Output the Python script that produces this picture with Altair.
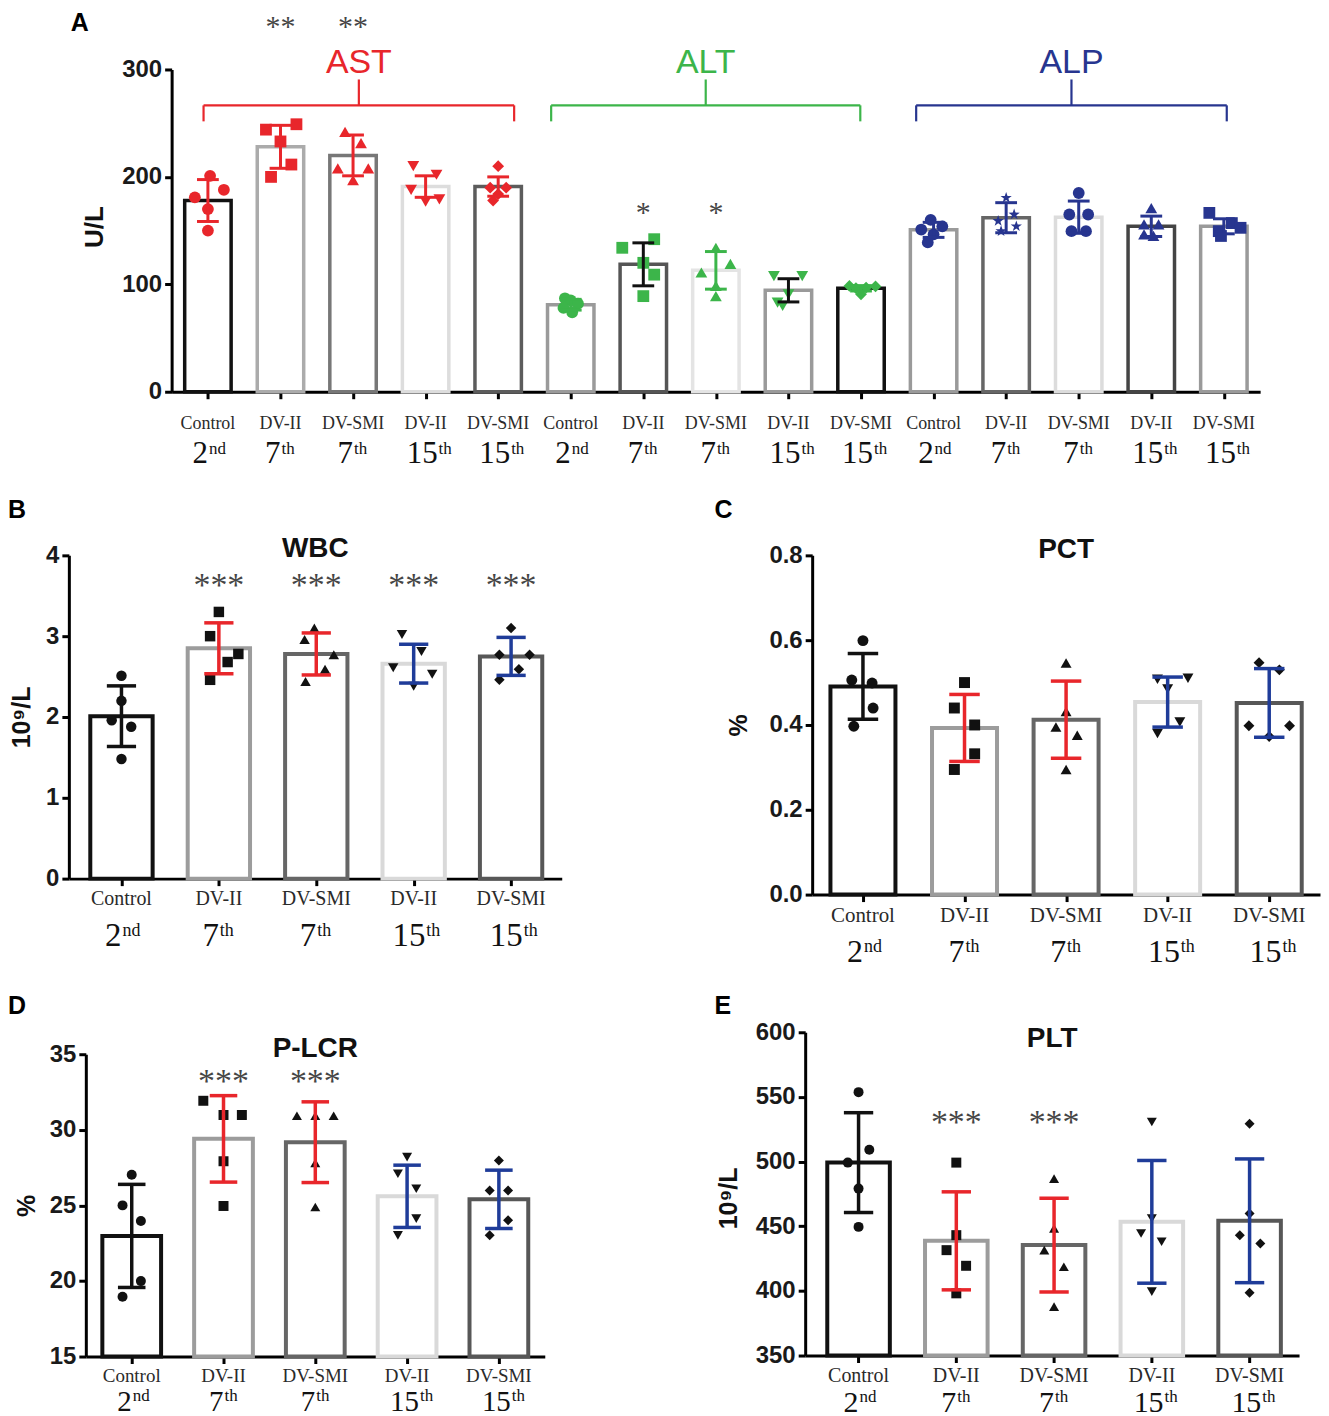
import altair as alt
import pandas as pd

# ---------------- shared labels / styles ----------------
CATS = ["Control", "DV-II", "DV-SMI", "DV-II", "DV-SMI"]
DAYS = ["2", "7", "7", "15", "15"]
SUPS = ["nd", "th", "th", "th", "th"]

RED = "#e8262b"
GREEN = "#3cb54a"
NAVY = "#27358f"
BLUE = "#1f3c99"
INK = "#111111"
STAR = ("M0,-1L0.235,-0.324L0.951,-0.309L0.38,0.124L0.588,0.809L0,0.38"
        "L-0.588,0.809L-0.38,0.124L-0.951,-0.309L-0.235,-0.324Z")
SHAPES5 = ["circle", "square", "triangle-up", "triangle-down", "diamond"]
STROKE5 = ["#111111", "#9c9c9c", "#666666", "#d9d9d9", "#575757"]
ERR5 = [INK, RED, RED, BLUE, BLUE]

# ---------------- Panel A (AST / ALT / ALP, U/L) ----------------
A_GROUPS = ["AST", "ALT", "ALP"]
A_GROUP_COLORS = [RED, GREEN, NAVY]
A_BR_LEFT = [-0.06, 4.73, 9.76]
A_BR_RIGHT = [4.22, 8.99, 14.04]
A_MEAN = [178, 228, 220, 191, 191, 81, 118.6, 113, 94.4, 96.3, 150.7, 162, 162.5, 154, 154]
A_SD = [19.5, 20, 19, 10, 9, 5, 20, 17.5, 10.8, 2.5, 7, 14, 15, 9.5, 7]
A_STROKE = ["#111111", "#ababab", "#777777", "#dddddd", "#5c5c5c",
            "#9a9a9a", "#555555", "#e4e4e4", "#9a9a9a", "#111111",
            "#9a9a9a", "#666666", "#dcdcdc", "#444444", "#9a9a9a"]
A_ERR = [RED] * 5 + [GREEN, INK, GREEN, INK, GREEN] + [NAVY] * 5
A_SHAPES = SHAPES5 + SHAPES5 + ["circle", STAR, "circle", "triangle-up", "square"]
A_PTCOL = [RED] * 5 + [GREEN] * 5 + [NAVY] * 5
A_PTS = [
    [201, 188, 181, 170, 150],
    [244, 249, 233, 211.5, 200],
    [242, 231.5, 208, 208, 197],
    [210, 202, 188, 179, 177],
    [210, 190, 190, 184, 178],
    [87, 85, 82, 78, 74],
    [142, 134, 120, 109, 89],
    [134, 119, 111, 98.5, 89],
    [107.7, 107.7, 90.7, 83, 80],
    [98.5, 98, 97, 96.5, 90.7],
    [160, 154, 151, 146.5, 139],
    [180.5, 165, 159, 154, 149.5],
    [185, 165, 165, 149.5, 149.5],
    [171, 155.7, 155.7, 146.5, 145],
    [166.5, 157, 152.6, 149.5, 145],
]
A_JIT = [
    [0.03, 0.22, -0.18, 0, 0],
    [-0.2, 0.22, 0, 0.15, -0.13],
    [-0.11, 0.11, -0.21, 0.21, 0],
    [-0.17, 0.15, -0.2, 0.19, 0],
    [0, -0.11, 0.11, 0, -0.07],
    [-0.08, 0, 0.1, -0.1, 0.02],
    [0.15, -0.29, 0, 0.15, 0],
    [0, 0.2, -0.2, 0, 0],
    [-0.2, 0.19, 0, -0.15, -0.08],
    [-0.16, 0.2, 0.07, -0.07, 0],
    [-0.04, 0.12, -0.17, 0, -0.08],
    [0, 0.11, -0.11, 0.14, -0.07],
    [0, -0.13, 0.13, -0.1, 0.1],
    [0, -0.1, 0.1, -0.1, 0.03],
    [-0.2, 0.11, 0.23, -0.07, -0.04],
]
A_SIG = ["", "**", "**", "", "", "", "*", "*", "", "", "", "", "", "", ""]
A_SIG_Y = [343] * 5 + [170.4] * 5 + [0] * 5

# ---------------- Panel B (WBC) ----------------
B_MEAN = [2.01, 2.85, 2.78, 2.66, 2.75]
B_SD = [0.375, 0.315, 0.26, 0.24, 0.235]
B_PTS = [
    [2.51, 2.2, 1.96, 1.88, 1.48],
    [3.30, 3.0, 2.78, 2.68, 2.46],
    [3.10, 2.96, 2.77, 2.59, 2.44],
    [3.02, 2.81, 2.61, 2.53, 2.38],
    [3.10, 2.77, 2.77, 2.59, 2.46],
]
B_JIT = [
    [0, 0, -0.1, 0.1, 0],
    [0, -0.09, 0.2, 0.09, -0.09],
    [-0.02, -0.12, 0.18, 0.09, -0.11],
    [-0.12, 0.08, -0.21, 0.19, 0],
    [0, -0.12, 0.19, 0.08, -0.12],
]
B_SIG = ["", "***", "***", "***", "***"]

# ---------------- Panel C (PCT) ----------------
C_MEAN = [0.491, 0.393, 0.4125, 0.454, 0.452]
C_SD = [0.0775, 0.079, 0.091, 0.059, 0.081]
C_PTS = [
    [0.599, 0.506, 0.499, 0.44, 0.397],
    [0.5, 0.44, 0.40, 0.332, 0.295],
    [0.546, 0.432, 0.395, 0.376, 0.295],
    [0.508, 0.510, 0.485, 0.407, 0.38],
    [0.547, 0.53, 0.398, 0.398, 0.373],
]
C_JIT = [
    [0, -0.11, 0.09, 0.1, -0.09],
    [0, -0.1, 0.1, 0.1, -0.1],
    [0, 0, -0.1, 0.11, 0],
    [-0.1, 0.2, 0, 0.12, -0.1],
    [-0.1, 0.1, -0.2, 0.2, 0],
]
C_SIG = ["", "", "", "", ""]

# ---------------- Panel D (P-LCR) ----------------
D_MEAN = [22.98, 29.4, 29.18, 25.6, 25.4]
D_SD = [3.41, 2.86, 2.67, 2.06, 1.93]
D_PTS = [
    [27.02, 25.0, 23.97, 19.99, 18.96],
    [31.92, 30.98, 30.98, 27.92, 24.96],
    [30.93, 30.93, 30.93, 27.81, 24.89],
    [28.19, 27.09, 26.1, 24.12, 23.02],
    [27.97, 25.99, 25.99, 24.01, 23.02],
]
D_JIT = [
    [0, -0.1, 0.1, 0.1, -0.1],
    [-0.22, 0, 0.2, 0, 0],
    [-0.2, 0, 0.2, 0, 0],
    [0, -0.1, 0.1, 0.1, -0.1],
    [0, -0.1, 0.1, 0.1, -0.1],
]
D_SIG = ["", "***", "***", "", ""]

# ---------------- Panel E (PLT) ----------------
E_MEAN = [499.2, 438.7, 435.4, 453.4, 454.2]
E_SD = [38.6, 37.9, 36.25, 47.45, 47.85]
E_PTS = [
    [553.7, 509.2, 499.2, 479.1, 449.5],
    [499.2, 443.1, 431.5, 419.4, 398.1],
    [486.8, 448.3, 431.5, 418.7, 387.8],
    [530.6, 456, 444.4, 438, 399.4],
    [529.3, 459.8, 443.1, 436.7, 398.6],
]
E_JIT = [
    [0, 0.11, -0.11, 0, 0],
    [0, 0, -0.1, 0.1, 0],
    [0, 0, -0.1, 0.1, 0],
    [0, 0, -0.11, 0.1, 0],
    [0, 0, -0.1, 0.11, 0],
]
E_SIG = ["", "***", "***", "", ""]

# overall canvas (plot area of the single layered chart)
W, H = 1316, 1400


def make_panel(c):
    n = len(c["mean"])
    x0, x1, yt, yb = c["box"]
    xdom = c.get("xdom", [-0.5, n - 0.5])
    xs = alt.Scale(domain=xdom, range=[x0, x1], nice=False, zero=False)
    ys = alt.Scale(domain=c["ydom"], range=[yb, yt], nice=False, zero=False)
    xax = alt.Axis(values=list(range(n)), labels=False, title=None, grid=False,
                   orient="bottom", offset=yb - H)
    yax = alt.Axis(values=c["yvals"], format=c["yfmt"], title=c["ytitle"], grid=False,
                   orient="left", offset=-x0, titleFontSize=c["ytfs"],
                   titleX=c["ytx"], titleY=(yt + yb) / 2 + c["yty"], titleAngle=270,
                   titleAlign="center", titleBaseline="middle")

    def X(f):
        return alt.X(f, scale=xs, axis=xax)

    def Y(f):
        return alt.Y(f, scale=ys, axis=yax)

    bars_df = pd.DataFrame({"i": list(range(n)), "mean": c["mean"], "sd": c["sd"],
                            "stroke": c["stroke"], "ec": c["err"]})
    base = alt.Chart(bars_df)
    bars = base.transform_calculate(
        xl="datum.i - 0.32", xr="datum.i + 0.32", y0=str(c["ydom"][0])
    ).mark_bar(fill="white", strokeWidth=c["bsw"]).encode(
        x=X("xl:Q"), x2="xr:Q", y=Y("mean:Q"), y2="y0:Q",
        stroke=alt.Stroke("stroke:N", scale=None))

    rows = []
    for i, (vals, js) in enumerate(zip(c["pts"], c["jit"])):
        for v, j in zip(vals, js):
            rows.append({"i": i, "v": v, "j": j, "shape": c["shapes"][i], "col": c["ptcol"][i]})
    pts_df = pd.DataFrame(rows)
    pts = alt.Chart(pts_df).transform_calculate(px="datum.i + datum.j").mark_point(
        filled=True, size=c["psize"], opacity=1).encode(
        x=X("px:Q"), y=Y("v:Q"),
        shape=alt.Shape("shape:N", scale=None),
        color=alt.Color("col:N", scale=None))

    err = base.transform_calculate(lo="datum.mean - datum.sd", hi="datum.mean + datum.sd")
    vr = err.mark_rule(strokeWidth=c["esw"]).encode(
        x=X("i:Q"), y=Y("lo:Q"), y2="hi:Q", color=alt.Color("ec:N", scale=None))
    caps = err.transform_fold(["lo", "hi"], as_=["k", "cy"]).transform_calculate(
        cl="datum.i - 0.15", cr="datum.i + 0.15"
    ).mark_rule(strokeWidth=c["esw"]).encode(
        x=X("cl:Q"), x2="cr:Q", y=Y("cy:Q"), color=alt.Color("ec:N", scale=None))

    lab_df = pd.DataFrame({"i": list(range(n)), "cat": c["cats"], "day": c["days"],
                           "sup": c["sups"], "sig": c["sig"], "sy": c["sigy"]})
    lab = alt.Chart(lab_df).transform_calculate(
        lx="datum.i + (length(datum.day) > 1 ? %f : 0)" % c["shift"])
    t_cat = lab.mark_text(font="Liberation Serif", fontSize=c["fc"], color="#2a2a2a",
                          baseline="alphabetic").encode(
        x=X("i:Q"), y=alt.value(yb + c["cyo"]), text="cat:N")
    t_day = lab.mark_text(font="Liberation Serif", fontSize=c["fd"], color="#111111",
                          align="right", baseline="alphabetic").encode(
        x=X("lx:Q"), y=alt.value(yb + c["dyo"]), text="day:N")
    t_sup = lab.mark_text(font="Liberation Serif", fontSize=c["fs"], color="#111111",
                          align="left", baseline="alphabetic", dx=1, dy=-c["supdy"]).encode(
        x=X("lx:Q"), y=alt.value(yb + c["dyo"]), text="sup:N")
    sig = lab.mark_text(font="Liberation Serif", fontSize=c["sigfs"], color="#454545",
                        baseline="alphabetic", dy=c["sigdy"]).encode(
        x=X("i:Q"), y=Y("sy:Q"), text="sig:N")

    letter = alt.Chart(pd.DataFrame({"t": [c["letter"]]})).mark_text(
        font="Liberation Sans", fontWeight="bold", fontSize=25, align="left",
        baseline="alphabetic", color="#000000").encode(
        text="t:N", x=alt.value(c["lxy"][0]), y=alt.value(c["lxy"][1]))

    layers = [bars, pts, vr, caps, t_cat, t_day, t_sup, sig, letter]
    if c.get("title"):
        ttl = alt.Chart(pd.DataFrame({"t": [c["title"]]})).mark_text(
            font="Liberation Sans", fontWeight="bold", fontSize=c["tfs"], align="center",
            baseline="alphabetic", color="#111111").encode(
            text="t:N", x=alt.value((x0 + x1) / 2), y=alt.value(yt + c["ty"]))
        layers.append(ttl)
    if c.get("brackets"):
        br_df = pd.DataFrame({"g": A_GROUPS, "col": A_GROUP_COLORS,
                              "l": A_BR_LEFT, "r": A_BR_RIGHT})
        br = alt.Chart(br_df).transform_calculate(
            m="(datum.l + datum.r) / 2", yb="266.6", yd="251.7", yt="290.7", ylab="297")
        col = alt.Color("col:N", scale=None)
        layers += [
            br.mark_rule(strokeWidth=2.2).encode(x=X("l:Q"), x2="r:Q", y=Y("yb:Q"), color=col),
            br.mark_rule(strokeWidth=2.2).encode(x=X("l:Q"), y=Y("yb:Q"), y2="yd:Q", color=col),
            br.mark_rule(strokeWidth=2.2).encode(x=X("r:Q"), y=Y("yb:Q"), y2="yd:Q", color=col),
            br.mark_rule(strokeWidth=2.2).encode(x=X("m:Q"), y=Y("yb:Q"), y2="yt:Q", color=col),
            br.mark_text(font="Liberation Sans", fontSize=34, baseline="alphabetic").encode(
                x=X("m:Q"), y=Y("ylab:Q"), text="g:N", color=col),
        ]
    return alt.layer(*layers)


common5 = dict(cats=CATS, days=DAYS, sups=SUPS, stroke=STROKE5, err=ERR5,
               shapes=SHAPES5, ptcol=["#111111"] * 5, bsw=4, esw=3.5,
               sigfs=34, sigdy=16, supdy=10, ytfs=25)

A = make_panel(dict(
    letter="A", lxy=(63, 21), box=(164, 1255, 60, 383),
    mean=A_MEAN, sd=A_SD, stroke=A_STROKE, err=A_ERR,
    shapes=A_SHAPES, ptcol=A_PTCOL, pts=A_PTS, jit=A_JIT, cats=CATS * 3, days=DAYS * 3,
    sups=SUPS * 3, sig=A_SIG, sigy=A_SIG_Y, sigfs=30, sigdy=13,
    ydom=[0, 300], yvals=[0, 100, 200, 300], yfmt="d", ytitle="U/L", ytx=-77, yty=-4,
    ytfs=26, psize=140, bsw=3.5, esw=3, shift=0.165,
    fc=18, cyo=37, fd=31, dyo=71, fs=17, supdy=9, brackets=True))

B = make_panel(dict(common5, letter="B", lxy=(0, 510), box=(61, 555, 547, 871),
                    xdom=[-0.54, 4.52],
                    mean=B_MEAN, sd=B_SD,
                    pts=B_PTS, jit=B_JIT, sig=B_SIG, sigy=[3.69] * 5,
                    ydom=[0, 4], yvals=[0, 1, 2, 3, 4], yfmt="d", ytitle="10⁹/L",
                    ytx=-47, yty=0, psize=110, shift=0.12,
                    fc=20, cyo=26, fd=33, dyo=68, fs=18, title="WBC", tfs=28, ty=2))

C = make_panel(dict(common5, letter="C", lxy=(708, 510), box=(806, 1315, 547, 887),
                    mean=C_MEAN, sd=C_SD,
                    pts=C_PTS, jit=C_JIT, sig=C_SIG, sigy=[0] * 5,
                    ydom=[0, 0.8], yvals=[0, 0.2, 0.4, 0.6, 0.8], yfmt=".1f", ytitle="%",
                    ytx=-74, yty=0, psize=120, shift=0.12,
                    fc=21, cyo=27, fd=32, dyo=68, fs=18, title="PCT", tfs=28, ty=3))

D = make_panel(dict(common5, letter="D", lxy=(0, 1007), box=(78, 538, 1047, 1350),
                    mean=D_MEAN, sd=D_SD,
                    pts=D_PTS, jit=D_JIT, sig=D_SIG, sigy=[33.57] * 5,
                    ydom=[15, 35], yvals=[15, 20, 25, 30, 35], yfmt="d", ytitle="%",
                    ytx=-59, yty=0, psize=100, shift=0.13,
                    fc=19, cyo=26, fd=29, dyo=55, fs=17, title="P-LCR", tfs=28, ty=3))

E = make_panel(dict(common5, letter="E", lxy=(708, 1007), box=(799, 1294, 1025, 1349),
                    xdom=[-0.546, 4.506],
                    mean=E_MEAN, sd=E_SD,
                    pts=E_PTS, jit=E_JIT, sig=E_SIG, sigy=[534.4] * 5,
                    ydom=[350, 600], yvals=[350, 400, 450, 500, 550, 600], yfmt="d",
                    ytitle="10⁹/L", ytx=-77, yty=4, psize=100, shift=0.12,
                    fc=20, cyo=27, fd=30, dyo=57, fs=17, title="PLT", tfs=28, ty=15))

chart = alt.layer(A, B, C, D, E).resolve_scale(
    x="independent", y="independent"
).resolve_axis(
    x="independent", y="independent"
).properties(
    width=W, height=H, padding=0, background="white"
).configure_view(stroke=None).configure_axis(
    domainColor="#000000", domainWidth=3, tickColor="#000000", tickWidth=3, tickSize=7,
    labelFont="Liberation Sans", labelFontWeight="bold", labelFontSize=24,
    labelColor="#1a1a1a", labelPadding=3,
    titleFont="Liberation Sans", titleFontWeight="bold", titleFontSize=25,
    titleColor="#111111", grid=False)

chart.save("out.html", embed_options={"renderer": "svg", "actions": False})
